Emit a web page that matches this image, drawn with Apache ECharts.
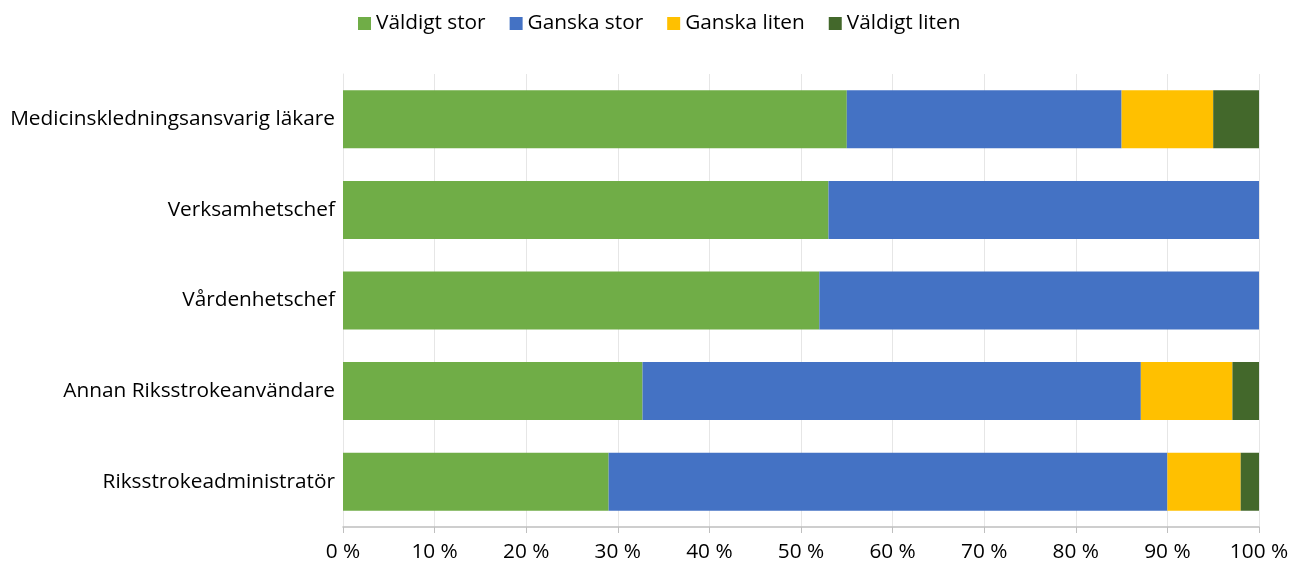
<!DOCTYPE html>
<html>
<head>
<meta charset="utf-8">
<script src="https://cdn.jsdelivr.net/npm/echarts@6/dist/echarts.min.js"></script>
<style>
  html, body { margin: 0; padding: 0; background: #fff; }
  #chart { width: 1295px; height: 565px; }
</style>
</head>
<body>
<div id="chart"></div>
<script>
// Roles, listed bottom to top as the category axis draws them
const categories = [
  'Riksstrokeadministratör',
  'Annan Riksstrokeanvändare',
  'Vårdenhetschef',
  'Verksamhetschef',
  'Medicinskledningsansvarig läkare'
];
// Share of answers (%) per response level
const valdigtStor = [29, 32.7, 52, 53, 55];
const ganskaStor  = [61, 54.4, 48, 47, 30];
const ganskaLiten = [8, 10, 0, 0, 10];
const valdigtLiten = [2, 2.9, 0, 0, 5];

const seriesNames = ['Väldigt stor', 'Ganska stor', 'Ganska liten', 'Väldigt liten'];
const seriesData = [valdigtStor, ganskaStor, ganskaLiten, valdigtLiten];
const colors = ['#70ad47', '#4472c4', '#ffc000', '#43682b'];
const xTicks = [0, 10, 20, 30, 40, 50, 60, 70, 80, 90, 100];

const font = '"Open Sans", Lato, sans-serif';
const fs = 20.8;
const chart = echarts.init(document.getElementById('chart'));

chart.setOption({
  animation: false,
  color: colors,
  textStyle: { fontFamily: font },
  legend: {
    top: 8,
    left: 353,
    itemWidth: 13,
    itemHeight: 13,
    itemGap: 24,
    icon: 'rect',
    textStyle: { fontSize: fs, color: '#000', fontFamily: font },
    data: seriesNames
  },
  grid: { left: 343, right: 36, top: 74, bottom: 38 },
  xAxis: {
    type: 'value',
    min: 0,
    max: 100,
    interval: 10,
    axisLine: { show: true, lineStyle: { color: '#bfbfbf', width: 1.5 } },
    axisTick: { show: true, length: 6, lineStyle: { color: '#bfbfbf' } },
    splitLine: { show: true, lineStyle: { color: '#e6e6e6', width: 1 } },
    axisLabel: {
      fontSize: fs,
      color: '#000',
      fontFamily: font,
      margin: 15,
      formatter: v => xTicks.includes(v) ? v + ' %' : ''
    }
  },
  yAxis: {
    type: 'category',
    data: categories,
    axisLine: { show: true, lineStyle: { color: '#e6e6e6' } },
    axisTick: { show: false },
    axisLabel: { fontSize: fs, color: '#000', fontFamily: font, margin: 8 }
  },
  series: seriesData.map((d, i) => ({
    name: seriesNames[i],
    type: 'bar',
    stack: 'total',
    barCategoryGap: '36%',
    data: d,
    itemStyle: { borderWidth: 0 }
  }))
});
</script>
</body>
</html>
